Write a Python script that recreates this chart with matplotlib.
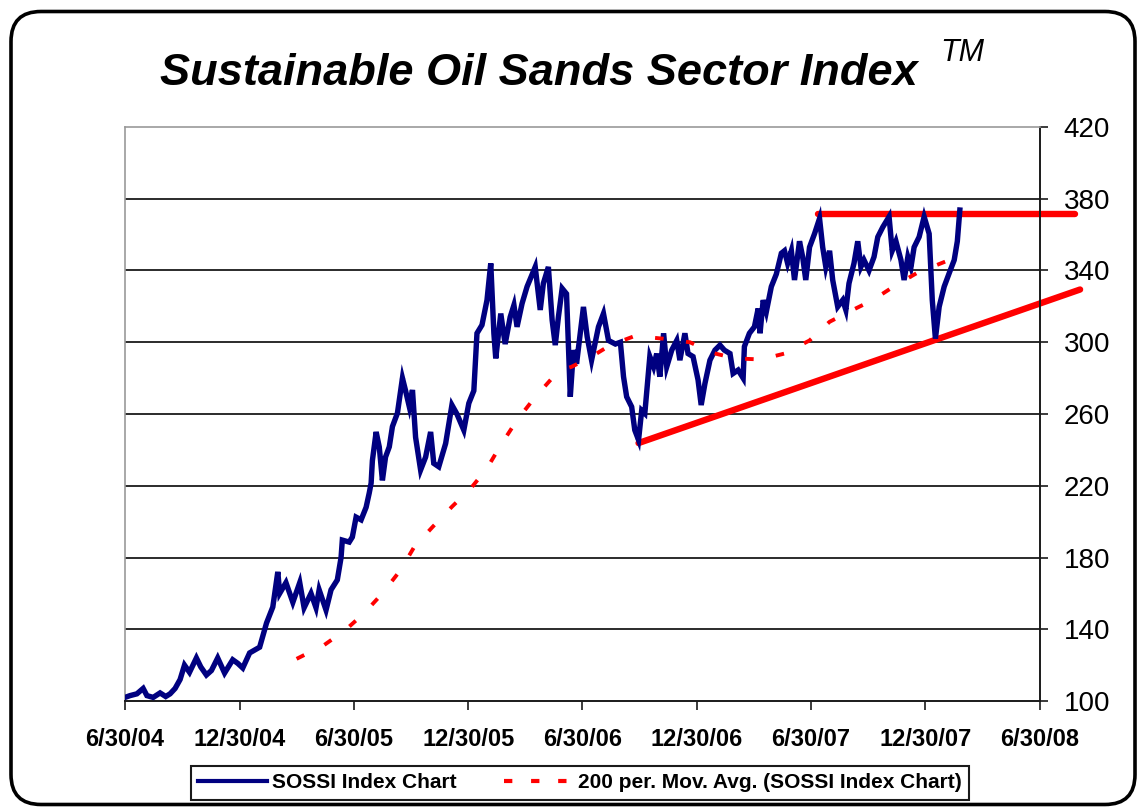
import numpy as np
import matplotlib
matplotlib.use('Agg')
import matplotlib.pyplot as plt
from matplotlib.patches import FancyBboxPatch
from matplotlib.lines import Line2D

plt.rcParams['font.family'] = ['Liberation Sans', 'DejaVu Sans']

START = np.datetime64('2004-06-30')

# SOSSI index: days since 6/30/04 and index value
index_days = [0, 8, 19, 29, 35, 45, 56, 65, 72, 80, 88, 95, 103, 114, 121, 130, 138, 148,
              159, 172, 180, 188, 199, 215, 226, 236, 244, 247, 257, 268, 279, 286, 297,
              305, 310, 321, 329, 339, 345, 347, 358, 363, 369, 377, 385, 390, 393, 395,
              401, 406, 411, 416, 422, 427, 435, 443, 448, 454, 459, 464, 472, 480, 488,
              493, 501, 512, 522, 530, 541, 549, 557, 562, 570, 578, 584, 589, 592, 600,
              607, 615, 621, 626, 634, 642, 655, 663, 668, 676, 682, 687, 692, 698, 705,
              711, 716, 721, 732, 738, 745, 756, 764, 772, 783, 791, 796, 801, 809, 814,
              820, 825, 830, 838, 844, 849, 854, 860, 865, 873, 881, 886, 894, 899, 907,
              915, 920, 926, 934, 942, 950, 957, 966, 971, 979, 987, 989, 997, 1005, 1011,
              1014, 1019, 1024, 1032, 1040, 1048, 1053, 1058, 1064, 1069, 1077, 1082, 1087,
              1093, 1101, 1109, 1114, 1119, 1125, 1130, 1138, 1146, 1151, 1156, 1164, 1170,
              1175, 1180, 1188, 1196, 1202, 1210, 1220, 1225, 1231, 1239, 1244, 1250, 1255,
              1260, 1268, 1276, 1284, 1289, 1294, 1300, 1308, 1316, 1324, 1329, 1333]
index_values = [102, 103, 104, 107, 103, 102, 104.5, 102.5, 104, 107, 112, 120, 116, 124, 119,
                114.5, 117, 124, 115.6, 123, 121, 118.4, 126.8, 130, 143.5, 152.4, 172, 160,
                166, 155, 166, 152, 160, 152, 162, 150.7, 162, 167.5, 180, 189.7, 188.6,
                191.4, 202.5, 201, 208, 216, 221.5, 234, 250, 241.6, 223, 236, 241.7, 253,
                260.5, 280, 273, 264, 273.4, 247, 228.8, 236, 250, 232.5, 230.6, 243.6, 265,
                260, 251, 266, 273, 305, 309.6, 323.5, 344, 305, 291, 316, 299, 314, 320.7,
                308.6, 321.6, 331, 342, 318, 332.8, 342, 312.4, 298.4, 314, 330, 327, 269.6,
                295.6, 288, 319.7, 303, 290, 308.6, 316, 301, 299, 300, 280.8, 269.6, 264,
                251, 245.5, 262, 260.3, 292, 286.3, 293.7, 280.8, 305, 286.3, 295.6, 301,
                290, 305, 293.7, 292, 279, 265, 277, 290, 295.6, 298.4, 295.6, 293.7, 282.6,
                284.5, 280, 297.6, 305, 308.6, 318.8, 305, 323.5, 317, 331, 338, 349.6, 351,
                344, 351, 334.7, 356.3, 347.6, 334.7, 353, 360.5, 369, 353, 342, 351, 334.7,
                319.8, 323.5, 318, 332.8, 344, 356.3, 342, 345.8, 340, 347.6, 358.7, 364.2,
                370, 351, 356.3, 345.8, 334.7, 347.6, 342, 353, 358.7, 370, 360.5, 323.5,
                302, 319.8, 331, 338.5, 345.8, 356.3, 373.7]

# 200-period moving average
ma_days = [274, 318, 352, 382, 411, 440, 462, 491, 522, 552, 578, 600, 626, 653, 682, 705,
           713, 745, 775, 814, 859, 902, 939, 974, 1016, 1053, 1093, 1125, 1156, 1194, 1231,
           1265, 1305, 1310]
ma_values = [123.5, 131.2, 139.6, 149, 160, 173, 186, 197, 208.3, 218.5, 229.7, 242.7, 256.6,
             268.6, 280, 285.4, 286.3, 292, 298.4, 303.5, 302, 300, 294, 291, 290.4, 293.7,
             301, 311.4, 317, 323.5, 331.9, 338.7, 344.3, 345]

# hand-drawn trend lines
support_days = [820, 1525]
support_values = [243.8, 329.4]
resist_days = [1106, 1517]
resist_values = [371.5, 371.5]

tick_dates = ['2004-06-30', '2004-12-30', '2005-06-30', '2005-12-30', '2006-06-30',
              '2006-12-30', '2007-06-30', '2007-12-30', '2008-06-30']
tick_labels = ['6/30/04', '12/30/04', '6/30/05', '12/30/05', '6/30/06',
               '12/30/06', '6/30/07', '12/30/07', '6/30/08']
y_ticks = [100, 140, 180, 220, 260, 300, 340, 380, 420]


def to_dates(days):
    return START + np.array(days).astype('timedelta64[D]')


W, H = 1138, 808
fig = plt.figure(figsize=(W / 100, H / 100), dpi=100)
fig.patch.set_facecolor('white')

ax = fig.add_axes([125 / W, 1 - 701 / H, (1040 - 125) / W, (701 - 127) / H])

for yv in y_ticks[1:-1]:
    ax.axhline(yv, color='#1a1a1a', lw=1.3, zorder=1)

ax.plot(to_dates(support_days), support_values, color='#ff0000', lw=4.6,
        solid_capstyle='round', zorder=2, clip_on=False)
ax.plot(to_dates(resist_days), resist_values, color='#ff0000', lw=4.6,
        solid_capstyle='round', zorder=2, clip_on=False)
ax.plot(to_dates(index_days), index_values, color='#000080', lw=3.9, zorder=3,
        solid_joinstyle='miter')
ax.plot(to_dates(ma_days), ma_values, color='#ff0000', lw=2.8,
        linestyle=(0, (2.2, 5.8)), zorder=4)

ax.set_xlim(np.datetime64('2004-06-30'), np.datetime64('2008-06-30'))
ax.set_ylim(100, 420)
ax.set_xticks(np.array(tick_dates, dtype='datetime64[D]'))
ax.set_xticklabels(tick_labels, fontsize=17, fontweight='bold')
ax.yaxis.tick_right()
ax.set_yticks(y_ticks)
ax.set_yticklabels([str(v) for v in y_ticks], fontsize=20)
ax.tick_params(axis='x', direction='out', length=6.5, width=1.2, pad=13, color='#1a1a1a')
ax.tick_params(axis='y', direction='out', length=6, width=1.2, pad=11, color='#1a1a1a')

for side in ['left', 'top']:
    ax.spines[side].set_color('#999999')
    ax.spines[side].set_linewidth(1.2)
for side in ['right', 'bottom']:
    ax.spines[side].set_color('#1a1a1a')
    ax.spines[side].set_linewidth(1.4)

# rounded outer frame
frame = FancyBboxPatch((0.11, 0.035), 11.24, 7.93,
                       boxstyle='round,pad=0,rounding_size=0.3',
                       transform=fig.dpi_scale_trans, fill=False, lw=2.6, ec='black')
fig.add_artist(frame)

fig.text(539 / W, 1 - 85 / H, 'Sustainable Oil Sands Sector Index', ha='center',
         va='baseline', fontsize=32.5, fontweight='bold', fontstyle='italic')
fig.text(940 / W, 1 - 61 / H, 'TM', ha='left', va='baseline', fontsize=22,
         fontstyle='italic')

handles = [Line2D([], [], color='#000080', lw=3),
           Line2D([], [], color='#ff0000', lw=3, linestyle=(0, (2.0, 4.5)))]
labels = ['SOSSI Index Chart', '200 per. Mov. Avg. (SOSSI Index Chart)']
leg = fig.legend(handles, labels, loc='center', bbox_to_anchor=(580 / W, 1 - 783 / H),
                 ncol=2, frameon=True, fancybox=False, edgecolor='#1a1a1a',
                 prop=dict(weight='bold', size=15), handlelength=3.3,
                 handletextpad=0.25, columnspacing=2.3, borderpad=0.35, framealpha=1,
                 borderaxespad=0)
leg.get_frame().set_linewidth(1.5)

fig.savefig('out.png', dpi=100)
